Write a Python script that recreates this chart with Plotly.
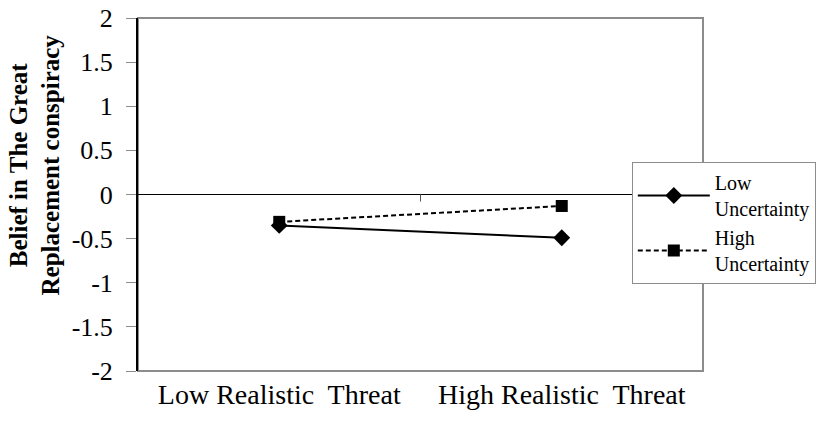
import plotly.graph_objects as go

categories = ["Low Realistic&nbsp; Threat", "High Realistic&nbsp; Threat"]
low_uncertainty = [-0.35, -0.49]
high_uncertainty = [-0.31, -0.13]
y_ticks = [-2, -1.5, -1, -0.5, 0, 0.5, 1, 1.5, 2]
series_names = ["Low<br>Uncertainty", "High<br>Uncertainty"]
y_title = "<b>Belief in The Great<br>Replacement conspiracy</b>"

FONT = "Liberation Serif, Times New Roman, serif"

fig = go.Figure()
fig.add_trace(go.Scatter(
    x=categories, y=low_uncertainty, name=series_names[0],
    mode="lines+markers",
    line=dict(color="black", width=2, dash="solid"),
    marker=dict(symbol="diamond", size=13, color="black"),
))
fig.add_trace(go.Scatter(
    x=categories, y=high_uncertainty, name=series_names[1],
    mode="lines+markers",
    line=dict(color="black", width=2, dash="5px,3px"),
    marker=dict(symbol="square", size=12, color="black"),
))

# plot border (gray) and middle category tick on the zero line
fig.add_shape(type="rect", xref="x domain", yref="y domain", x0=0, x1=1, y0=0, y1=1,
              line=dict(color="#8c8c8c", width=2), layer="below")
fig.add_shape(type="line", xref="x domain", yref="y", x0=0.5, x1=0.5, y0=0, y1=-0.08,
              line=dict(color="#555555", width=1))

fig.add_annotation(
    text=y_title, xref="paper", yref="paper", x=0, y=0.5,
    xanchor="center", yanchor="middle", textangle=-90, showarrow=False,
    xshift=-104, yshift=29,
    font=dict(family=FONT, size=25, color="black"),
)

fig.update_layout(
    width=831, height=421,
    margin=dict(l=138, r=128, t=18, b=50),
    paper_bgcolor="white", plot_bgcolor="white",
    font=dict(family=FONT, size=20, color="black"),
    showlegend=True,
    legend=dict(
        x=0.874, xanchor="left", y=0.592, yanchor="top",
        bordercolor="#8c8c8c", borderwidth=1, bgcolor="white",
        font=dict(family=FONT, size=20, color="black"),
        itemwidth=72, tracegroupgap=0,
    ),
    xaxis=dict(
        type="category", range=[-0.5, 1.5], automargin=False,
        showline=False, showgrid=False, zeroline=False, ticks="",
        tickfont=dict(family=FONT, size=28, color="black"),
        ticklabelstandoff=4,
    ),
    yaxis=dict(
        range=[-2, 2], tickvals=y_ticks, automargin=False,
        ticktext=[f"{v:g}" for v in y_ticks],
        showgrid=False, zeroline=True, zerolinecolor="black", zerolinewidth=1,
        showline=True, linecolor="black", linewidth=2,
        ticks="outside", ticklen=10, tickcolor="#8c8c8c", tickwidth=1,
        ticklabelstandoff=8, ticklabeloverflow="allow",
        tickfont=dict(family=FONT, size=26, color="black"),
    ),
)

fig.write_html("out.html", config={"displayModeBar": False},
               post_script="document.body.style.margin='0';")
